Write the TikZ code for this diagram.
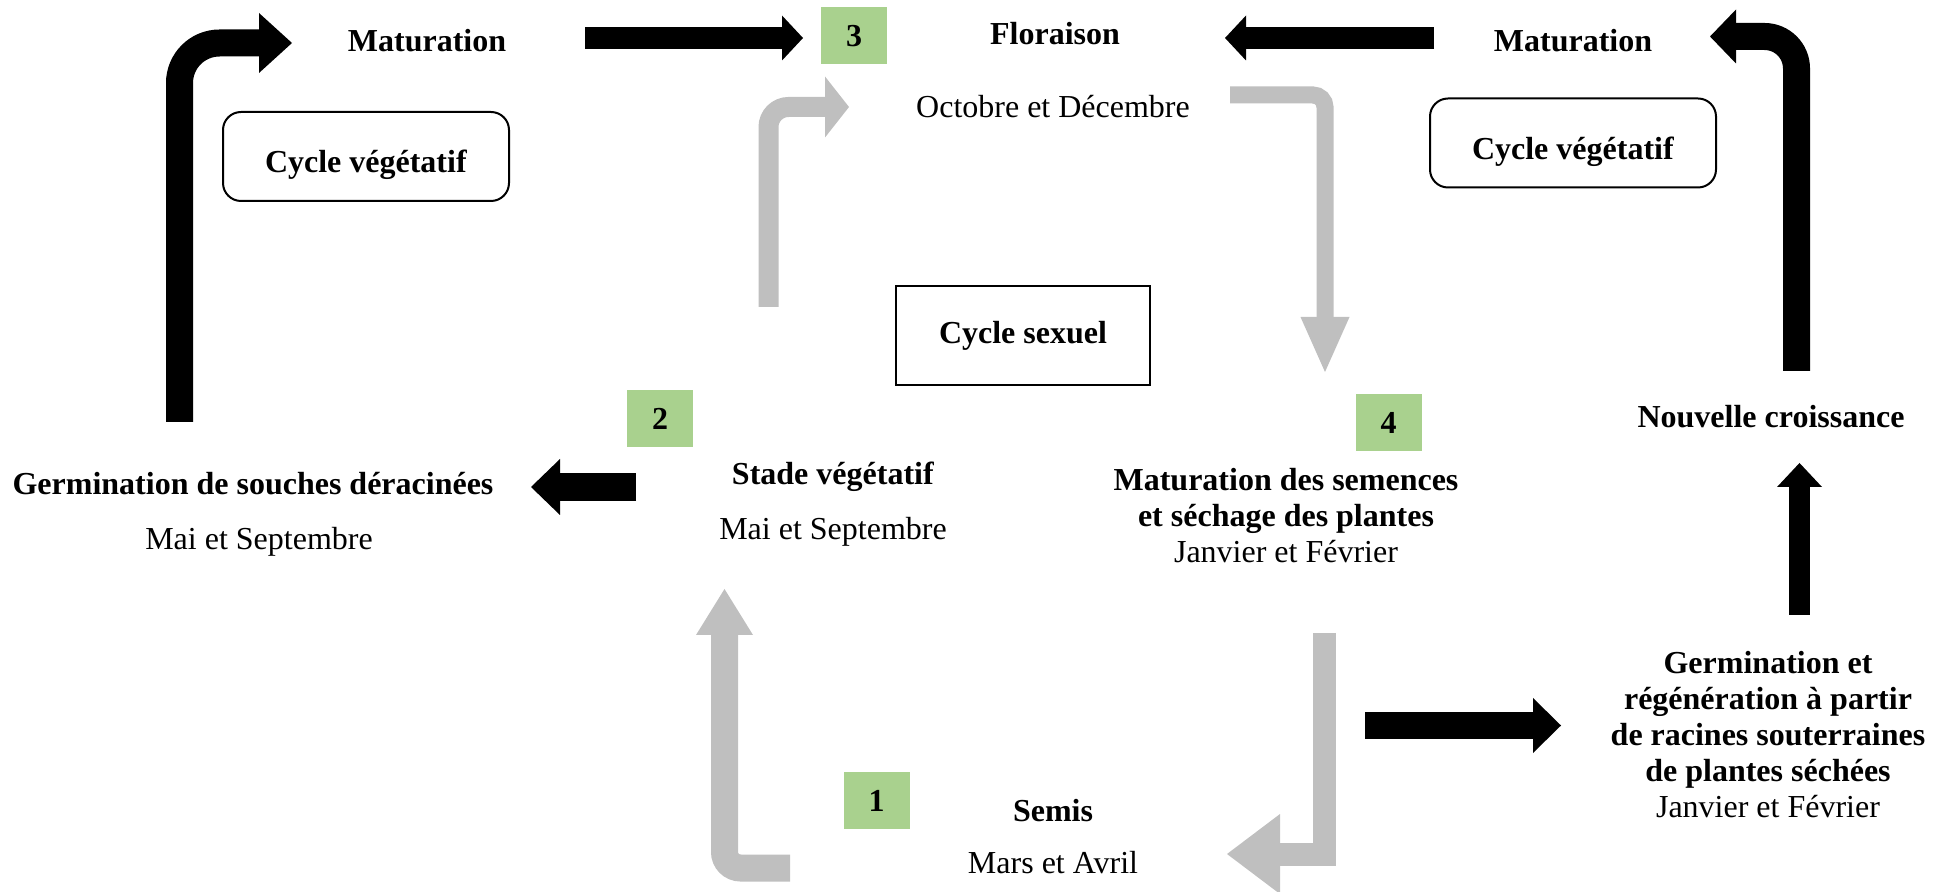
\documentclass[tikz,border=0pt]{standalone}
\usepackage{fontspec}
\setmainfont{Liberation Serif}
\usetikzlibrary{arrows.meta}
\definecolor{vertnum}{RGB}{169,209,142}
\definecolor{grisfl}{RGB}{191,191,191}

\begin{document}
\begin{tikzpicture}[x=0.5pt,y=-0.5pt,
  every node/.style={font=\fontsize{16}{18}\selectfont,align=center,inner sep=0pt},
  num/.style={fill=vertnum, minimum width=33pt, minimum height=28.5pt},
  cadre/.style={draw, line width=1pt, rounded corners=9pt, minimum width=143pt,
    minimum height=44.5pt, text height=16.5pt, text depth=0pt},
  cadrecs/.style={draw, line width=0.6pt, minimum width=127pt, minimum height=49.5pt},
  fl/.style n args={3}{line width=#1, -{Triangle[length=#2,width=#3,line width=0pt]}},
  noire/.style={draw=black},
  grise/.style={draw=grisfl}]

\useasboundingbox (0,0) rectangle (1944,892);

% Etapes du cycle sexuel
\node[anchor=base] (flor) at (1055,45) {\textbf{Floraison}};
\node[anchor=base] (oct) at (1053,118) {Octobre et Décembre};
\node[anchor=base] (stade) at (833,485) {\textbf{Stade végétatif}};
\node[anchor=base] (mai2) at (833,540) {Mai et Septembre};
\node[anchor=base] (matsem) at (1286,563) {\textbf{Maturation des semences}\\
  \textbf{et séchage des plantes}\\Janvier et Février};
\node[anchor=base] (semis) at (1053,821) {\textbf{Semis}};
\node[anchor=base] (mars) at (1053,873) {Mars et Avril};

% Etapes du cycle vegetatif
\node[anchor=base] (mat1) at (427,52) {\textbf{Maturation}};
\node[anchor=base] (mat2) at (1573,52) {\textbf{Maturation}};
\node[anchor=base] (germ1) at (253,495) {\textbf{Germination de souches déracinées}};
\node[anchor=base] (mai1) at (259,550) {Mai et Septembre};
\node[anchor=base] (nouv) at (1771,428) {\textbf{Nouvelle croissance}};
\node[anchor=base] (germ2) at (1768,817) {\textbf{Germination et}\\
  \textbf{régénération à partir}\\\textbf{de racines souterraines}\\
  \textbf{de plantes séchées}\\Janvier et Février};

% Cadres
\node[cadre] (cv1) at (366,156.5) {\textbf{Cycle végétatif}};
\node[cadre] (cv2) at (1573,143) {\textbf{Cycle végétatif}};
\node[cadrecs] (cs) at (1023,335.5) {\textbf{Cycle sexuel}};

% Numeros
\node[num] (n1) at (876.5,800.5) {\textbf{1}};
\node[num] (n2) at (660,418.5) {\textbf{2}};
\node[num] (n3) at (854,36) {\textbf{3}};
\node[num] (n4) at (1388.5,423) {\textbf{4}};

% Points des fleches
\coordinate (fa1) at (179.5,422);  \coordinate (fa2) at (292,43);
\coordinate (fb1) at (585,38);     \coordinate (fb2) at (803,38);
\coordinate (fc1) at (768.5,307);  \coordinate (fc2) at (849,107);
\coordinate (fd1) at (1434,38);    \coordinate (fd2) at (1225,38);
\coordinate (fe1) at (1796.5,371); \coordinate (fe2) at (1710,36.5);
\coordinate (ff1) at (1230,95);    \coordinate (ff2) at (1325,372);
\coordinate (fg1) at (636,487);    \coordinate (fg2) at (531,487);
\coordinate (fh1) at (790,868);    \coordinate (fh2) at (724.5,589);
\coordinate (fi1) at (1324,633);   \coordinate (fi2) at (1227,854);
\coordinate (fj1) at (1365,725.5); \coordinate (fj2) at (1561,725.5);
\coordinate (fk1) at (1799.5,615); \coordinate (fk2) at (1799.5,463);

% Fleches grises (cycle sexuel)
\draw[grise,fl={10pt}{12pt}{30.5pt},rounded corners=10pt] (fc1) |- (fc2);
\draw[grise,fl={8.5pt}{27.5pt}{24.5pt},rounded corners=6pt] (ff1) -| (ff2);
\draw[grise,fl={11.5pt}{26.5pt}{40pt}] (fi1) |- (fi2);
\draw[grise,fl={13.5pt}{23pt}{28.5pt},rounded corners=8pt] (fh1) -| (fh2);

% Fleches noires (cycle vegetatif)
\draw[noire,fl={13.5pt}{16.5pt}{30pt},rounded corners=20pt] (fa1) |- (fa2);
\draw[noire,fl={11pt}{10.5pt}{22.5pt}] (fb1) -- (fb2);
\draw[noire,fl={11pt}{10.5pt}{22.5pt}] (fd1) -- (fd2);
\draw[noire,fl={13.5pt}{13pt}{27pt},rounded corners=16pt] (fe1) |- (fe2);
\draw[noire,fl={14pt}{14.5pt}{28pt}] (fg1) -- (fg2);
\draw[noire,fl={13.5pt}{14pt}{27.5pt}] (fj1) -- (fj2);
\draw[noire,fl={10.5pt}{12pt}{22.5pt}] (fk1) -- (fk2);

\end{tikzpicture}
\end{document}
